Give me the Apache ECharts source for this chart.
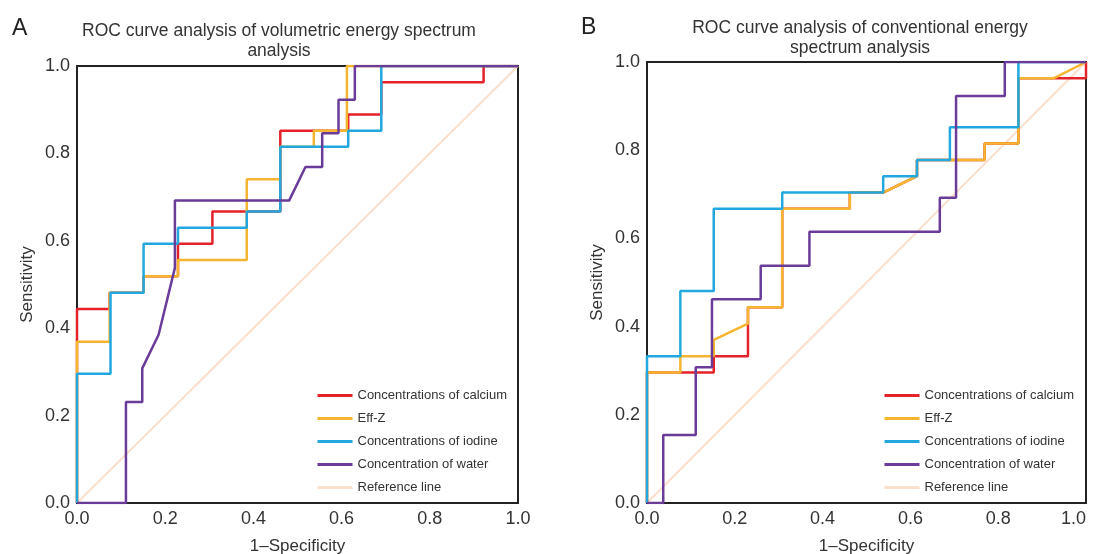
<!DOCTYPE html>
<html lang="en">

<head>
    <meta charset="UTF-8">
    <title>ROC curves</title>
    <script src="https://cdn.jsdelivr.net/npm/echarts@6/dist/echarts.min.js"></script>
    <style>
        html, body { margin: 0; padding: 0; background: #fff; }
        #chart { width: 1096px; height: 554px; }
    </style>
</head>

<body>
    <div id="chart"></div>
    <script>
        // legend names
        const names = ['Concentrations of calcium', 'Eff-Z', 'Concentrations of iodine', 'Concentration of water', 'Reference line'];
        const ticks = [0, 0.2, 0.4, 0.6, 0.8, 1.0];

        // panel A: volumetric energy spectrum, [1-specificity, sensitivity]
        const volCalcium = [[0,0],[0,0.444],[0.074,0.444],[0.074,0.481],[0.151,0.481],[0.151,0.519],[0.229,0.519],[0.229,0.593],[0.307,0.593],[0.307,0.667],[0.461,0.667],[0.461,0.852],[0.615,0.852],[0.615,0.889],[0.69,0.889],[0.69,0.963],[0.922,0.963],[0.922,1],[1,1]];
        const volEffZ = [[0,0],[0,0.369],[0.074,0.369],[0.074,0.481],[0.151,0.481],[0.151,0.519],[0.229,0.519],[0.229,0.556],[0.385,0.556],[0.385,0.741],[0.461,0.741],[0.461,0.815],[0.537,0.815],[0.537,0.852],[0.612,0.852],[0.612,1],[1,1]];
        const volIodine = [[0,0],[0,0.296],[0.076,0.296],[0.076,0.481],[0.151,0.481],[0.151,0.593],[0.229,0.593],[0.229,0.63],[0.385,0.63],[0.385,0.667],[0.461,0.667],[0.461,0.815],[0.615,0.815],[0.615,0.852],[0.69,0.852],[0.69,1],[1,1]];
        const volWater = [[0,0],[0.111,0],[0.111,0.231],[0.148,0.231],[0.148,0.308],[0.185,0.385],[0.222,0.538],[0.222,0.692],[0.481,0.692],[0.518,0.769],[0.556,0.769],[0.556,0.846],[0.593,0.846],[0.593,0.923],[0.63,0.923],[0.63,1],[1,1]];

        // panel B: conventional energy spectrum
        const conCalcium = [[0,0],[0,0.296],[0.152,0.296],[0.152,0.333],[0.23,0.333],[0.23,0.444],[0.308,0.444],[0.308,0.667],[0.462,0.667],[0.462,0.704],[0.538,0.704],[0.615,0.741],[0.615,0.778],[0.769,0.778],[0.769,0.815],[0.846,0.815],[0.846,0.963],[1,0.963],[1,1]];
        const conEffZ = [[0,0],[0,0.296],[0.076,0.296],[0.076,0.333],[0.152,0.333],[0.152,0.37],[0.23,0.407],[0.23,0.444],[0.308,0.444],[0.308,0.667],[0.462,0.667],[0.462,0.704],[0.538,0.704],[0.615,0.741],[0.615,0.778],[0.769,0.778],[0.769,0.815],[0.846,0.815],[0.846,0.963],[0.926,0.963],[1,1]];
        const conIodine = [[0,0],[0,0.333],[0.076,0.333],[0.076,0.481],[0.152,0.481],[0.152,0.667],[0.308,0.667],[0.308,0.704],[0.538,0.704],[0.538,0.741],[0.615,0.741],[0.615,0.778],[0.69,0.778],[0.69,0.852],[0.846,0.852],[0.846,1],[1,1]];
        const conWater = [[0,0],[0.037,0],[0.037,0.154],[0.111,0.154],[0.111,0.308],[0.148,0.308],[0.148,0.462],[0.259,0.462],[0.259,0.538],[0.37,0.538],[0.37,0.615],[0.667,0.615],[0.667,0.692],[0.704,0.692],[0.704,0.923],[0.815,0.923],[0.815,1],[1,1]];

        const refLine = [[0,0],[1,1]];
        const colors = ['#e5222a', '#f6b52f', '#22a8df', '#6a3b98', '#fbdfcd'];
        const font = 'Liberation Sans, Arial, sans-serif';

        function axes(idx, lastAlign) {
            let common = {
                type: 'value',
                gridIndex: idx,
                min: 0,
                max: 1,
                interval: 0.2,
                nameLocation: 'middle',
                nameTextStyle: { fontSize: 17, color: '#333', fontFamily: font },
                axisLine: { show: false },
                axisTick: { show: false },
                splitLine: { show: false },
                axisLabel: {
                    fontSize: 18,
                    color: '#333',
                    fontFamily: font,
                    margin: 7,
                    formatter: v => v.toFixed(1)
                }
            };
            let x = Object.assign({}, common, { name: '1\u2013Specificity', nameGap: 35 });
            // B's last x label sits against the window edge
            x.axisLabel = Object.assign({}, common.axisLabel, { alignMaxLabel: lastAlign });
            return {
                x: x,
                y: Object.assign({}, common, { name: 'Sensitivity', nameGap: 41 })
            };
        }

        function lines(idx, sets) {
            let out = [{
                name: names[4],
                type: 'line',
                xAxisIndex: idx,
                yAxisIndex: idx,
                data: refLine,
                symbol: 'none',
                z: 1,
                lineStyle: { color: colors[4], width: 2 },
                itemStyle: { color: colors[4] }
            }];
            sets.forEach((d, i) => {
                out.push({
                    name: names[i],
                    type: 'line',
                    xAxisIndex: idx,
                    yAxisIndex: idx,
                    data: d,
                    symbol: 'none',
                    z: 2 + i,
                    lineStyle: { color: colors[i], width: 2.5 },
                    itemStyle: { color: colors[i] }
                });
            });
            return out;
        }

        let a = axes(0, 'center');
        let b = axes(1, 'right');

        let legendBase = {
            orient: 'vertical',
            data: names,
            itemWidth: 35,
            itemHeight: 14,
            itemGap: 10,
            itemStyle: { opacity: 0 },
            lineStyle: { width: 3 },
            textStyle: { fontSize: 13, color: '#333', fontFamily: font },
            selectedMode: false
        };

        let option = {
            animation: false,
            title: [
                { text: 'A', left: 7, top: 12, textStyle: { fontSize: 23, fontWeight: 'normal', color: '#222', fontFamily: font } },
                { text: 'B', left: 576, top: 11, textStyle: { fontSize: 23, fontWeight: 'normal', color: '#222', fontFamily: font } },
                {
                    text: 'ROC curve analysis of volumetric energy spectrum\nanalysis',
                    left: 274, top: 16, textAlign: 'center',
                    textStyle: { fontSize: 17.5, fontWeight: 'normal', color: '#333', lineHeight: 20, fontFamily: font }
                },
                {
                    text: 'ROC curve analysis of conventional energy\nspectrum analysis',
                    left: 855, top: 13, textAlign: 'center',
                    textStyle: { fontSize: 17.5, fontWeight: 'normal', color: '#333', lineHeight: 20, fontFamily: font }
                }
            ],
            grid: [
                { left: 77, top: 66, width: 441, height: 437, outerBoundsMode: 'none', show: true, borderColor: '#222', borderWidth: 2 },
                { left: 647, top: 62, width: 439, height: 441, outerBoundsMode: 'none', show: true, borderColor: '#222', borderWidth: 2 }
            ],
            legend: [
                Object.assign({}, legendBase, { left: 311, top: 384 }),
                Object.assign({}, legendBase, { left: 878, top: 384 })
            ],
            xAxis: [a.x, b.x],
            yAxis: [a.y, b.y],
            series: lines(0, [volCalcium, volEffZ, volIodine, volWater])
                .concat(lines(1, [conCalcium, conEffZ, conIodine, conWater]))
        };

        let myChart = echarts.init(document.getElementById('chart'));
        myChart.setOption(option);
    </script>
</body>

</html>
